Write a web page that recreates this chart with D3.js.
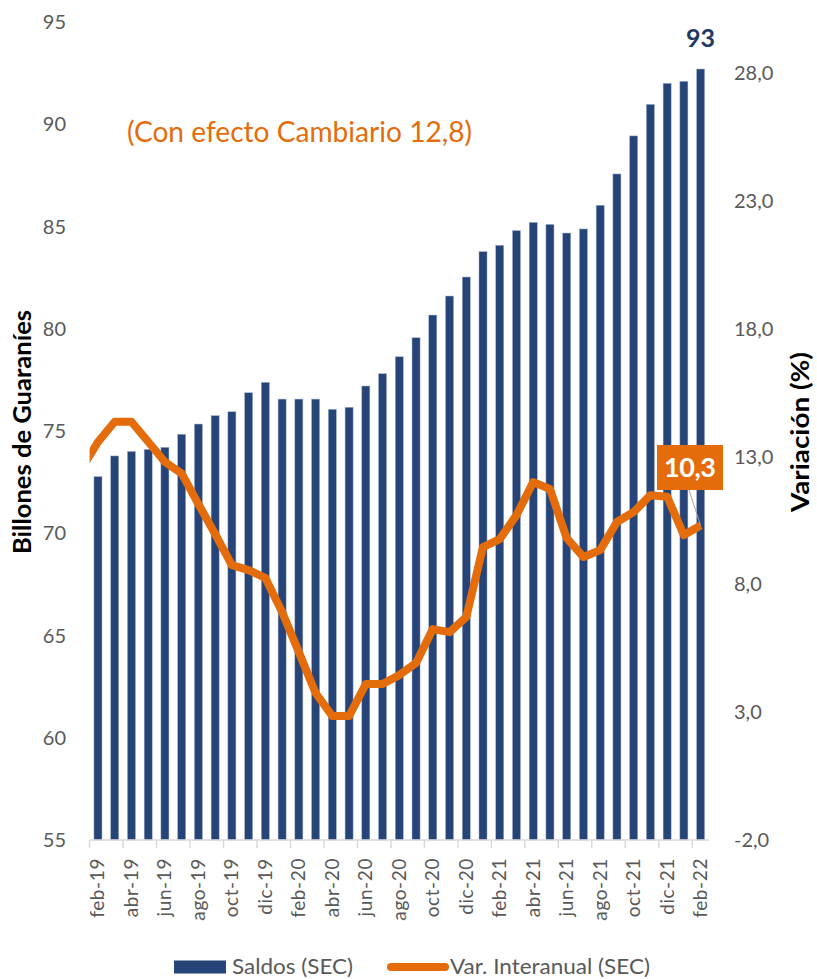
<!DOCTYPE html>
<html>
<head>
<meta charset="utf-8">
<script src="https://cdn.jsdelivr.net/npm/d3@7"></script>
<style>
  body { margin: 0; background: #fff; }
  svg { display: block; font-family: Lato, "Open Sans", sans-serif; }
  .tick-label { fill: #595959; font-size: 20px; }
  .axis-title { fill: #000; font-size: 25px; font-weight: bold; }
</style>
</head>
<body>
<div id="chart"></div>
<script>
// data
const months = [
  "feb-19", "mar-19", "abr-19", "may-19", "jun-19", "jul-19", "ago-19", "sep-19", "oct-19", "nov-19", "dic-19",
  "ene-20", "feb-20", "mar-20", "abr-20", "may-20", "jun-20", "jul-20", "ago-20", "sep-20", "oct-20", "nov-20", "dic-20",
  "ene-21", "feb-21", "mar-21", "abr-21", "may-21", "jun-21", "jul-21", "ago-21", "sep-21", "oct-21", "nov-21", "dic-21",
  "ene-22", "feb-22"
];
const saldos = [
  72.77, 73.78, 74.0, 74.1, 74.2, 74.84, 75.34, 75.75, 75.94, 76.87, 77.38,
  76.56, 76.56, 76.56, 76.06, 76.16, 77.2, 77.8, 78.63, 79.56, 80.67, 81.6, 82.53,
  83.77, 84.08, 84.8, 85.2, 85.1, 84.68, 84.88, 86.04, 87.57, 89.43, 90.97, 92.0,
  92.1, 92.7
];
const variacion = [
  13.57, 14.36, 14.36, 13.58, 12.79, 12.34, 11.14, 9.97, 8.75, 8.56, 8.25,
  6.92, 5.35, 3.75, 2.85, 2.85, 4.1, 4.1, 4.45, 4.92, 6.25, 6.13, 6.72,
  9.46, 9.77, 10.71, 12.0, 11.73, 9.81, 9.07, 9.34, 10.44, 10.83, 11.49, 11.43,
  9.93, 10.3
];
// ene-19, before the first month, only the stub at the left edge shows
const variacionPrev = 12.5;
const leftTicks = [55, 60, 65, 70, 75, 80, 85, 90, 95];
const rightTicks = [-2, 3, 8, 13, 18, 23, 28];

// dimensions
const W = 817;
const H = 979;
const LEFT = 89.6;
const RIGHT = 709;
const TOP = 22;
const BOTTOM = 840;
const BLUE = "#264478";
const ORANGE = "#e46c0a";

// scales
const x = d3.scaleBand().domain(months).range([LEFT, RIGHT])
  .paddingInner(0.52).paddingOuter(0.26);
const yL = d3.scaleLinear().domain([55, 95]).range([BOTTOM, TOP]);
const yR = d3.scaleLinear().domain([-2, 30]).range([BOTTOM, TOP]);
const cx = m => x(m) + x.bandwidth() / 2;

const $svg = d3.select("#chart").append("svg")
  .attr("width", W).attr("height", H);

$svg.append("clipPath").attr("id", "plot-clip")
  .append("rect")
  .attr("x", LEFT).attr("y", 0)
  .attr("width", RIGHT - LEFT).attr("height", H);

// bars
$svg.append("g").selectAll("rect")
  .data(months)
  .join("rect")
  .attr("x", d => x(d))
  .attr("y", (d, i) => yL(saldos[i]))
  .attr("width", x.bandwidth())
  .attr("height", (d, i) => BOTTOM - yL(saldos[i]))
  .attr("fill", BLUE)
  .attr("stroke", "#9fb0cc")
  .attr("stroke-width", 0.5);

// category axis
const $xAxis = $svg.append("g");
$xAxis.append("line")
  .attr("x1", LEFT).attr("x2", RIGHT)
  .attr("y1", BOTTOM).attr("y2", BOTTOM)
  .attr("stroke", "#d9d9d9").attr("stroke-width", 1.5);

const everyOther = months.filter((d, i) => i % 2 === 0);
const gap = (x.step() - x.bandwidth()) / 2;
$xAxis.selectAll(".tk")
  .data(everyOther)
  .join("line")
  .attr("class", "tk")
  .attr("x1", d => x(d) - gap).attr("x2", d => x(d) - gap)
  .attr("y1", BOTTOM).attr("y2", BOTTOM + 8)
  .attr("stroke", "#d9d9d9").attr("stroke-width", 1.5);

$xAxis.selectAll(".lbl")
  .data(everyOther)
  .join("text")
  .attr("class", "tick-label lbl")
  .attr("transform", d => `translate(${cx(d) + 6.5}, ${BOTTOM + 18}) rotate(-90)`)
  .attr("text-anchor", "end")
  .style("font-size", "19px")
  .style("letter-spacing", "0.6px")
  .text(d => d);

// value axes
$svg.append("g").selectAll("text")
  .data(leftTicks)
  .join("text")
  .attr("class", "tick-label")
  .attr("x", 66)
  .attr("y", d => yL(d))
  .attr("dy", "0.35em")
  .attr("text-anchor", "end")
  .text(d => d);

const fmt = d => d.toFixed(1).replace(".", ",");
$svg.append("g").selectAll("text")
  .data(rightTicks)
  .join("text")
  .attr("class", "tick-label")
  .attr("x", 734)
  .attr("y", d => yR(d))
  .attr("dy", "0.35em")
  .text(fmt);

$svg.append("text")
  .attr("class", "axis-title")
  .attr("transform", `translate(31, 432) rotate(-90)`)
  .attr("text-anchor", "middle")
  .attr("textLength", 244)
  .attr("lengthAdjust", "spacingAndGlyphs")
  .text("Billones de Guaraníes");

$svg.append("text")
  .attr("class", "axis-title")
  .attr("transform", `translate(809, 432) rotate(-90)`)
  .attr("text-anchor", "middle")
  .attr("textLength", 160)
  .attr("lengthAdjust", "spacingAndGlyphs")
  .text("Variación (%)");

// line
const linePts = [[cx(months[0]) - x.step(), yR(variacionPrev)]]
  .concat(months.map((m, i) => [cx(m), yR(variacion[i])]));

$svg.append("path")
  .attr("clip-path", "url(#plot-clip)")
  .attr("d", d3.line()(linePts))
  .attr("fill", "none")
  .attr("stroke", ORANGE)
  .attr("stroke-width", 8)
  .attr("stroke-linejoin", "round");

// labels
const last = months.length - 1;
$svg.append("text")
  .attr("x", cx(months[last]))
  .attr("y", 47)
  .attr("text-anchor", "middle")
  .attr("fill", "#1f3864")
  .style("font-size", "25px")
  .style("font-weight", "bold")
  .text(Math.round(saldos[last] + 0.3));

const boxX = 657, boxY = 445, boxW = 66, boxH = 45;
$svg.append("line")
  .attr("x1", boxX + 32).attr("y1", boxY + boxH)
  .attr("x2", cx(months[last])).attr("y2", yR(variacion[last]))
  .attr("stroke", "#a6a6a6").attr("stroke-width", 1);
$svg.append("rect")
  .attr("x", boxX).attr("y", boxY)
  .attr("width", boxW).attr("height", boxH)
  .attr("fill", ORANGE);
$svg.append("text")
  .attr("x", boxX + boxW / 2)
  .attr("y", boxY + boxH / 2)
  .attr("dy", "0.36em")
  .attr("text-anchor", "middle")
  .attr("fill", "#fff")
  .style("font-size", "27px")
  .style("font-weight", "bold")
  .attr("textLength", 52)
  .attr("lengthAdjust", "spacing")
  .text(fmt(variacion[last]));

$svg.append("text")
  .attr("x", 127)
  .attr("y", 142)
  .attr("fill", ORANGE)
  .style("font-size", "28px")
  .attr("textLength", 345)
  .attr("lengthAdjust", "spacingAndGlyphs")
  .text("(Con efecto Cambiario 12,8)");

// legend
const $legend = $svg.append("g").attr("transform", "translate(0, 967)");
$legend.append("rect")
  .attr("x", 174).attr("y", -6.5)
  .attr("width", 52).attr("height", 13)
  .attr("fill", BLUE);
$legend.append("text")
  .attr("class", "tick-label")
  .attr("x", 232).attr("dy", "0.35em")
  .style("font-size", "21px")
  .attr("textLength", 121)
  .attr("lengthAdjust", "spacingAndGlyphs")
  .text("Saldos (SEC)");
$legend.append("line")
  .attr("x1", 391).attr("x2", 445)
  .attr("stroke", ORANGE).attr("stroke-width", 8)
  .attr("stroke-linecap", "round");
$legend.append("text")
  .attr("class", "tick-label")
  .attr("x", 450).attr("dy", "0.35em")
  .style("font-size", "21px")
  .attr("textLength", 200)
  .attr("lengthAdjust", "spacingAndGlyphs")
  .text("Var. Interanual (SEC)");
</script>
</body>
</html>
